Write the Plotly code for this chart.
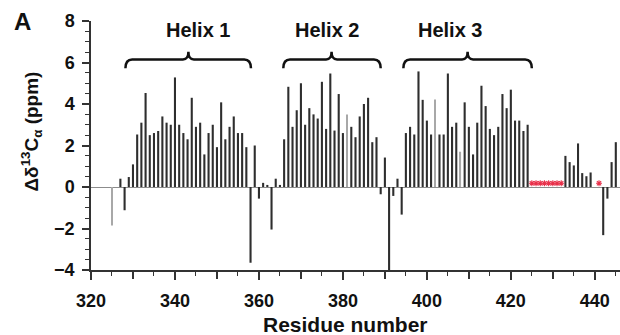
import plotly.graph_objects as go

# ---------------- data ----------------
residues = [327, 328, 329, 330, 331, 332, 333, 334, 335, 336, 337, 338, 339, 340,
            341, 342, 343, 344, 345, 346, 347, 348, 349, 350, 351, 352, 353, 354,
            355, 356, 357, 358, 359, 360, 361, 362, 363, 364, 365, 366, 367, 368,
            369, 370, 371, 372, 373, 374, 375, 376, 377, 378, 379, 380, 382, 383,
            384, 385, 386, 387, 388, 389, 390, 391, 392, 393, 394, 395, 396, 397,
            398, 399, 400, 401, 403, 404, 405, 406, 407, 409, 410, 411, 412, 413,
            414, 415, 416, 417, 418, 419, 420, 421, 422, 423, 424, 433, 434, 435,
            436, 437, 438, 439, 442, 443, 444, 445]
delta_ca = [0.4, -1.12, 0.48, 1.09, 2.53, 3.1, 4.53, 2.5, 2.6, 2.7, 3.4, 3.1, 3.0, 5.28,
            3.0, 2.6, 2.3, 4.3, 2.9, 3.1, 1.57, 2.6, 3.0, 1.92, 4.08, 2.3, 2.9, 3.4,
            2.6, 2.6, 1.92, -3.65, 2.0, -0.56, 0.2, 0.1, -2.05, 0.4, 0.1, 2.3, 4.83, 2.9,
            3.7, 5.0, 3.0, 3.8, 3.5, 3.3, 5.07, 2.8, 5.47, 2.72, 4.48, 2.6, 2.9, 2.4,
            3.4, 4.0, 4.3, 2.16, 2.4, -0.35, 1.42, -4.0, -0.43, 0.4, -1.33, 2.6, 2.9, 2.53,
            5.57, 4.2, 3.2, 2.53, 2.53, 2.53, 5.47, 2.9, 3.1, 4.08, 2.9, 1.57, 3.1, 4.88,
            3.9, 2.8, 2.5, 2.9, 4.48, 3.8, 4.69, 3.2, 3.2, 2.7, 3.0, 1.5, 1.2, 1.04,
            2.1, 0.67, 0.52, 0.7, -2.32, -0.56, 1.2, 2.16]

# weaker (light grey) bars
faint_residues = [325, 381, 402, 408]
faint_delta_ca = [-1.86, 3.5, 4.22, 1.7]

# residues marked with red asterisks
starred_residues = [425, 426, 427, 428, 429, 430, 431, 432, 441]
starred_y = [0.18, 0.18, 0.18, 0.18, 0.18, 0.18, 0.18, 0.18, 0.18]

# helix annotations
helix_names = ["Helix 1", "Helix 2", "Helix 3"]
helix_start = [328.2, 365.8, 394.4]
helix_end = [358.1, 389.0, 425.0]
helix_peak = [343.2, 377.3, 409.7]
helix_label_x = [345.6, 376.1, 405.4]

x_label_ticks = [320, 340, 360, 380, 400, 420, 440]
x_long_ticks = [330, 350, 370, 390, 410, 430]
y_tickvals = [-4, -2, 0, 2, 4, 6, 8]

# ---------------- figure ----------------
FONT = "Liberation Sans, Arial, sans-serif"
RED = "#e8304a"
fig = go.Figure()

fig.add_trace(go.Bar(x=residues, y=delta_ca, width=0.5,
                     marker=dict(color="#2e2e2e", line=dict(width=0)),
                     showlegend=False))
fig.add_trace(go.Bar(x=faint_residues, y=faint_delta_ca, width=0.3,
                     marker=dict(color="#a8a8a8", line=dict(width=0)),
                     showlegend=False))
fig.add_trace(go.Scatter(x=starred_residues, y=starred_y, mode="markers",
                         marker=dict(symbol="asterisk-open", size=5, color=RED,
                                     line=dict(color=RED, width=1.1)),
                         showlegend=False))
# invisible helper trace so the tick-only overlay axis gets drawn
fig.add_trace(go.Scatter(x=[None], y=[None], xaxis="x2", yaxis="y",
                         mode="markers", showlegend=False, hoverinfo="skip"))

# braces
y_low, y_mid, y_top = 5.72, 6.15, 6.52
dx_end, dx_mid = 1.6, 1.3
for x0, x1, xc in zip(helix_start, helix_end, helix_peak):
    path = (f"M {x0},{y_low} Q {x0},{y_mid} {x0+dx_end},{y_mid} "
            f"L {xc-dx_mid},{y_mid} Q {xc},{y_mid} {xc},{y_top} "
            f"Q {xc},{y_mid} {xc+dx_mid},{y_mid} "
            f"L {x1-dx_end},{y_mid} Q {x1},{y_mid} {x1},{y_low}")
    fig.add_shape(type="path", path=path, xref="x", yref="y",
                  line=dict(color="#111111", width=2.5))

for name, xl in zip(helix_names, helix_label_x):
    fig.add_annotation(x=xl, y=7.57, xref="x", yref="y", text=name,
                       showarrow=False, xanchor="center", yanchor="middle",
                       font=dict(family=FONT, size=20, color="#111111", weight="bold"))

# axis titles and panel letter
fig.add_annotation(xref="paper", yref="paper", x=0.4815, y=-0.22,
                   text="Residue number", showarrow=False,
                   xanchor="center", yanchor="middle",
                   font=dict(family=FONT, size=21, color="#111111", weight="bold"))
fig.add_annotation(xref="paper", yref="paper", x=-0.112, y=0.555,
                   text="Δδ<sup>13</sup>C<sub>α</sub> (ppm)", textangle=-90,
                   showarrow=False, xanchor="center", yanchor="middle",
                   font=dict(family=FONT, size=19, color="#111111", weight="bold"))
fig.add_annotation(xref="paper", yref="paper", x=-0.130, y=0.998,
                   text="A", showarrow=False, xanchor="center", yanchor="middle",
                   font=dict(family=FONT, size=24, color="#111111", weight="bold"))

fig.update_layout(
    width=620, height=335,
    margin=dict(l=91, r=0, t=21, b=65),
    paper_bgcolor="white", plot_bgcolor="white",
    barmode="overlay",
    showlegend=False,
    hovermode=False,
    font=dict(family=FONT, color="#111111"),
    xaxis=dict(range=[320, 446], tickmode="array", tickvals=x_label_ticks,
               ticks="outside", ticklen=8, tickwidth=1.5,
               tickcolor="#333333", showline=True, linecolor="#333333", linewidth=1.5,
               showgrid=False, zeroline=False, ticklabelstandoff=6,
               tickfont=dict(family=FONT, size=18, color="#111111", weight="bold"),
               minor=dict(dtick=5, ticks="outside", ticklen=4, tickwidth=1.2,
                          tickcolor="#333333", showgrid=False)),
    xaxis2=dict(range=[320, 446], overlaying="x", anchor="y", side="bottom",
                tickmode="array", tickvals=x_long_ticks, showticklabels=False,
                ticks="outside", ticklen=8, tickwidth=1.5, tickcolor="#333333",
                showline=False, showgrid=False, zeroline=False),
    yaxis=dict(range=[-4, 8], tickmode="array", tickvals=y_tickvals,
               ticks="outside", ticklen=7, tickwidth=1.5, tickcolor="#333333",
               showline=True, linecolor="#333333", linewidth=1.5,
               showgrid=False, zeroline=True, zerolinecolor="#8c8c8c",
               zerolinewidth=1, ticklabelstandoff=4,
               tickfont=dict(family=FONT, size=18, color="#111111", weight="bold"),
               minor=dict(dtick=0.5, ticks="outside", ticklen=4, tickwidth=1.2,
                          tickcolor="#333333", showgrid=False)),
)

fig.write_html("out.html", config={"displayModeBar": False},
               post_script="document.body.style.margin='0';document.body.style.overflow='hidden';")
